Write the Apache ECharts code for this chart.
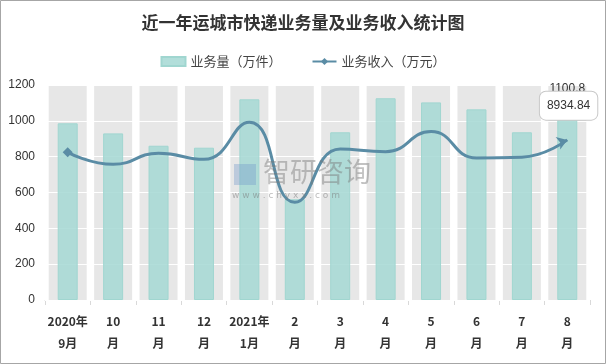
<!DOCTYPE html>
<html><head><meta charset="utf-8">
<script src="https://cdn.jsdelivr.net/npm/echarts@6/dist/echarts.min.js"></script>
<style>html,body{margin:0;padding:0;background:#fff}#c{width:606px;height:364px}</style>
</head><body><div id="c"></div>
<script>
const categories = ['2020年\n9月','10\n月','11\n月','12\n月','2021年\n1月','2\n月','3\n月','4\n月','5\n月','6\n月','7\n月','8\n月'];
const volume = [986, 930, 861, 850, 1120, 562, 936, 1126, 1103, 1064, 936, 1100.8];
const revenue = [8240, 7570, 8190, 7850, 9920, 5450, 8430, 8280, 9400, 7930, 7970, 8934.84];
const backdrop = [1200,1200,1200,1200,1200,1200,1200,1200,1200,1200,1200,1200];
const yTicks = [0, 200, 400, 600, 800, 1000, 1200];

const chart = echarts.init(document.getElementById('c'));
const lineData = revenue.map((v, i) => {
  if (i === 0) return {value: v, symbol: 'diamond', symbolSize: 10};
  if (i === revenue.length - 1) return {value: v, symbol: 'arrow', symbolSize: 10, symbolRotate: -70,
    label: {show: true, position: 'top', distance: 5, offset: [6, -9], color: '#333', fontSize: 12,
      backgroundColor: '#fff', borderColor: '#c8c8c8', borderWidth: 1, borderRadius: 6,
      padding: [8, 7], formatter: '{c}', fontFamily: 'Liberation Sans'}};
  return {value: v, symbol: 'none'};
});
chart.setOption({
  animation: false,
  title: {text: '近一年运城市快递业务量及业务收入统计图', left: 'center', top: 9,
    textStyle: {fontSize: 17, fontWeight: 'bold', color: '#333', fontFamily: 'Noto Sans CJK SC'}},
  legend: {top: 50, left: 'center', itemGap: 30, itemWidth: 24, itemHeight: 9,
    textStyle: {fontSize: 13, color: '#444', fontFamily: 'Noto Sans CJK SC'},
    data: [{name: '业务量（万件）', icon: 'rect'}, {name: '业务收入（万元）'}]},
  graphic: [
    {type: 'rect', shape: {x: 0.5, y: 0.5, width: 605, height: 363}, style: {fill: 'none', stroke: '#a6a6a6', lineWidth: 1}, z: 100},
    {type: 'text', left: 263, top: 158, z: 50, style: {text: '智研咨询', fontSize: 27, fill: 'rgba(120,120,120,0.45)', fontFamily: 'Noto Sans CJK SC'}},
    {type: 'rect', left: 234, top: 164, z: 50, shape: {width: 22, height: 21}, style: {fill: 'rgba(110,150,200,0.35)'}},
    {type: 'text', left: 232, top: 191, z: 50, style: {text: 'w w w . c h y x x . c o m', fontSize: 9, fill: 'rgba(120,120,120,0.5)', fontFamily: 'DejaVu Sans'}}
  ],
  grid: {left: 45, right: 16, top: 85, bottom: 64},
  xAxis: [
    {type: 'category', data: categories,
      axisLine: {lineStyle: {color: '#d9d9d9'}},
      axisTick: {show: true, length: 5, lineStyle: {color: '#d9d9d9'}},
      axisLabel: {color: '#333', fontSize: 12, fontWeight: 'bold', lineHeight: 22, margin: 10, interval: 0, fontFamily: 'Noto Sans CJK SC'}},
    {type: 'category', data: categories, show: false}
  ],
  yAxis: [
    {type: 'value', min: 0, max: 1200, interval: 200, z: 3,
      axisLine: {show: false}, axisTick: {show: false},
      axisLabel: {color: '#333', fontSize: 12, margin: 10, fontFamily: 'Liberation Sans',
        formatter: v => yTicks.includes(v) ? String(v) : ''},
      splitLine: {lineStyle: {color: '#ffffff', width: 1}}},
    {type: 'value', min: 0, max: 12000, show: false, splitLine: {show: false}}
  ],
  series: [
    {name: 'bg', type: 'bar', xAxisIndex: 1, data: backdrop, barWidth: 38, silent: true, z: 1,
      itemStyle: {color: '#e7e7e7'}},
    {name: '业务量（万件）', type: 'bar', data: volume, barWidth: 20, z: 5,
      itemStyle: {color: 'rgba(164,216,211,0.85)', borderColor: '#a0d6d0', borderWidth: 1},
      label: {show: true, position: 'top', distance: 8, color: '#333', fontSize: 12, fontFamily: 'Liberation Sans',
        formatter: p => p.dataIndex === volume.length - 1 ? String(p.value) : ''}},
    {name: '业务收入（万元）', type: 'line', yAxisIndex: 1, data: lineData, smooth: 0.5, z: 6,
      symbol: 'diamond', symbolSize: 10,
      lineStyle: {color: '#5a8ca5', width: 3}, itemStyle: {color: '#5a8ca5'}}
  ]
});
</script></body></html>
